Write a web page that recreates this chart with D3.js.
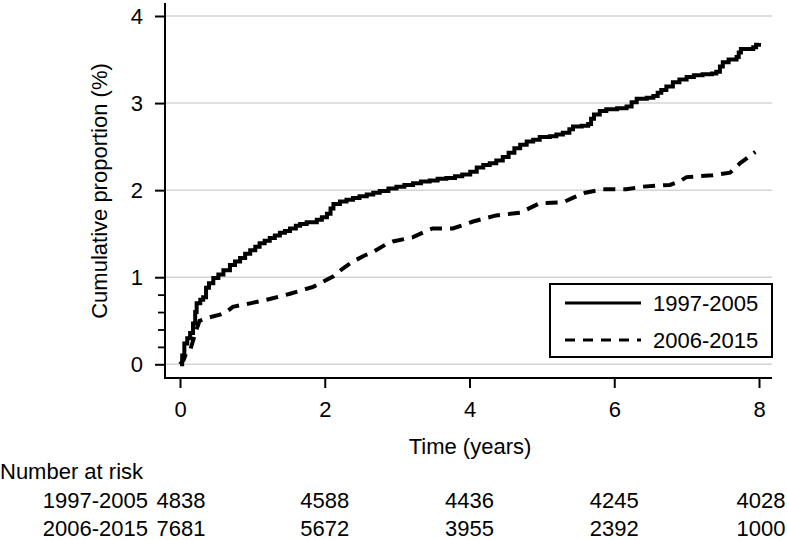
<!DOCTYPE html>
<html>
<head>
<meta charset="utf-8">
<script src="https://cdn.jsdelivr.net/npm/d3@7"></script>
<style>
  html, body { margin: 0; padding: 0; background: #fff; }
  svg { display: block; font-family: "Liberation Sans", Arial, Helvetica, sans-serif; }
</style>
</head>
<body>
<svg id="chart" width="787" height="540"></svg>
<script>
// ---- data ----
const seriesNames = ["1997-2005", "2006-2015"];

const timeA = [0,0.03,0.06,0.10,0.14,0.18,0.21,0.23,0.28,0.32,0.36,0.40,0.46,0.53,0.60,0.69,0.76,0.83,0.90,0.97,
  1.04,1.10,1.17,1.24,1.31,1.38,1.45,1.52,1.60,1.66,1.75,1.89,1.96,2.03,2.08,2.12,2.21,2.30,2.39,2.48,
  2.58,2.67,2.76,2.88,2.99,3.10,3.22,3.33,3.45,3.56,3.68,3.80,3.90,4.01,4.10,4.19,4.28,4.37,4.46,4.54,
  4.62,4.70,4.79,4.88,4.97,5.11,5.20,5.29,5.38,5.43,5.55,5.64,5.68,5.72,5.80,5.89,6.04,6.17,6.24,6.31,
  6.45,6.54,6.60,6.65,6.72,6.81,6.90,7.00,7.10,7.22,7.35,7.41,7.46,7.50,7.58,7.69,7.72,7.75,7.85,7.92,7.96,8.00];
const valueA = [0,0.10,0.24,0.30,0.36,0.47,0.60,0.70,0.74,0.77,0.88,0.93,0.99,1.03,1.08,1.14,1.18,1.22,1.27,1.31,
  1.35,1.39,1.42,1.45,1.48,1.51,1.53,1.56,1.59,1.61,1.63,1.66,1.69,1.73,1.79,1.84,1.87,1.89,1.91,1.93,
  1.95,1.97,1.99,2.02,2.04,2.06,2.08,2.10,2.11,2.13,2.14,2.16,2.18,2.21,2.26,2.29,2.31,2.34,2.38,2.43,
  2.48,2.52,2.56,2.58,2.61,2.62,2.64,2.66,2.70,2.73,2.74,2.76,2.82,2.87,2.91,2.93,2.94,2.96,3.01,3.05,
  3.06,3.08,3.12,3.15,3.19,3.24,3.27,3.30,3.32,3.33,3.34,3.36,3.42,3.47,3.50,3.53,3.58,3.62,3.62,3.64,3.67,3.69];

const timeB = [0,0.05,0.09,0.14,0.18,0.22,0.27,0.41,0.55,0.64,0.73,0.97,1.24,1.52,1.84,1.98,2.12,2.25,2.39,2.55,
  2.67,2.85,2.94,3.22,3.40,3.49,3.77,3.95,4.05,4.37,4.70,4.97,5.29,5.45,5.60,5.84,6.17,6.39,6.77,6.90,
  7.00,7.36,7.60,7.74,7.95];
const valueB = [0,0.05,0.14,0.16,0.27,0.38,0.50,0.54,0.57,0.60,0.66,0.70,0.75,0.81,0.89,0.95,1.01,1.10,1.18,1.25,
  1.29,1.38,1.41,1.46,1.53,1.56,1.56,1.61,1.64,1.71,1.74,1.85,1.86,1.92,1.97,2.01,2.01,2.04,2.06,2.10,
  2.15,2.17,2.20,2.31,2.44];

const xTicks = [0, 2, 4, 6, 8];
const yTicks = [0, 1, 2, 3, 4];
const yMinorTicks = [0.2, 0.4, 0.6, 0.8];
const riskA = [4838, 4588, 4436, 4245, 4028];
const riskB = [7681, 5672, 3955, 2392, 1000];

// ---- drawing ----
const svg = d3.select("#chart");
const FS = 22;
const x = d3.scaleLinear().domain([0, 8]).range([180, 759]);
const y = d3.scaleLinear().domain([0, 4]).range([364.3, 16]);
const axisLeftX = 165, axisBottomY = 378, plotRight = 772, plotTop = 3;

// gridlines
svg.append("g").selectAll("line").data(yTicks).join("line")
  .attr("x1", axisLeftX).attr("x2", plotRight)
  .attr("y1", d => y(d)).attr("y2", d => y(d))
  .attr("stroke", "#d4d4d4").attr("stroke-width", 1.5);

// y axis
const yAxis = d3.axisLeft(y).tickValues(yTicks).tickSize(10).tickPadding(12).tickFormat(d3.format("d"));
const gy = svg.append("g").attr("transform", `translate(${axisLeftX},0)`).call(yAxis);
gy.select(".domain").remove();
gy.selectAll(".tick line").attr("stroke", "#000").attr("stroke-width", 2);
gy.selectAll(".tick text").attr("font-size", FS).attr("fill", "#000")
  .attr("font-family", "Liberation Sans, Arial, sans-serif");
const gyMinor = svg.append("g").attr("transform", `translate(${axisLeftX},0)`)
  .call(d3.axisLeft(y).tickValues(yMinorTicks).tickSize(7).tickFormat(""));
gyMinor.select(".domain").remove();
gyMinor.selectAll(".tick line").attr("stroke", "#000").attr("stroke-width", 1.8);
svg.append("line").attr("x1", axisLeftX).attr("x2", axisLeftX)
  .attr("y1", plotTop).attr("y2", axisBottomY + 1)
  .attr("stroke", "#000").attr("stroke-width", 2);

// x axis
const xAxis = d3.axisBottom(x).tickValues(xTicks).tickSize(10).tickPadding(13).tickFormat(d3.format("d"));
const gx = svg.append("g").attr("transform", `translate(0,${axisBottomY})`).call(xAxis);
gx.select(".domain").remove();
gx.selectAll(".tick line").attr("stroke", "#000").attr("stroke-width", 2);
gx.selectAll(".tick text").attr("font-size", FS).attr("fill", "#000")
  .attr("font-family", "Liberation Sans, Arial, sans-serif");
svg.append("line").attr("x1", axisLeftX - 1).attr("x2", plotRight)
  .attr("y1", axisBottomY).attr("y2", axisBottomY)
  .attr("stroke", "#000").attr("stroke-width", 2);

// axis titles
svg.append("text").attr("x", 470).attr("y", 454).attr("text-anchor", "middle")
  .attr("font-size", FS).text("Time (years)");
svg.append("text").attr("transform", "translate(107,191) rotate(-90)")
  .attr("text-anchor", "middle").attr("font-size", FS).text("Cumulative proportion (%)");

// curves
const dataA = timeA.map((t, i) => [t, valueA[i]]);
const dataB = timeB.map((t, i) => [t, valueB[i]]);
const lineStep = d3.line().x(d => x(d[0])).y(d => y(d[1])).curve(d3.curveStepAfter);
const lineLin = d3.line().x(d => x(d[0])).y(d => y(d[1]));
svg.append("path").datum(dataB).attr("d", lineLin)
  .attr("fill", "none").attr("stroke", "#000").attr("stroke-width", 4)
  .attr("stroke-dasharray", "12,8");
svg.append("path").datum(dataA).attr("d", lineStep)
  .attr("fill", "none").attr("stroke", "#000").attr("stroke-width", 4)
  .attr("stroke-linejoin", "miter");

// legend
const lg = svg.append("g");
lg.append("rect").attr("x", 550).attr("y", 284).attr("width", 222).attr("height", 73)
  .attr("fill", "#fff").attr("stroke", "#000").attr("stroke-width", 2);
const legRows = [{name: seriesNames[0], dash: null, ly: 303}, {name: seriesNames[1], dash: "10,8", ly: 340}];
legRows.forEach(r => {
  lg.append("line").attr("x1", 565).attr("x2", 641).attr("y1", r.ly).attr("y2", r.ly)
    .attr("stroke", "#000").attr("stroke-width", 3.2)
    .attr("stroke-dasharray", r.dash);
  lg.append("text").attr("x", 653).attr("y", r.ly + 8).attr("font-size", FS).text(r.name);
});

// number at risk table
svg.append("text").attr("x", 0).attr("y", 479).attr("font-size", FS).text("Number at risk");
[[seriesNames[0], riskA, 508], [seriesNames[1], riskB, 536]].forEach(([name, vals, yy]) => {
  svg.append("text").attr("x", 148).attr("y", yy).attr("text-anchor", "end")
    .attr("font-size", FS).text(name);
  svg.append("g").selectAll("text").data(vals).join("text")
    .attr("x", (d, i) => x(xTicks[i]) + (i === 0 ? 1 : 0) + (i === vals.length - 1 ? 2 : 0))
    .attr("y", yy).attr("text-anchor", "middle").attr("font-size", FS).text(d => d);
});
</script>
</body>
</html>
